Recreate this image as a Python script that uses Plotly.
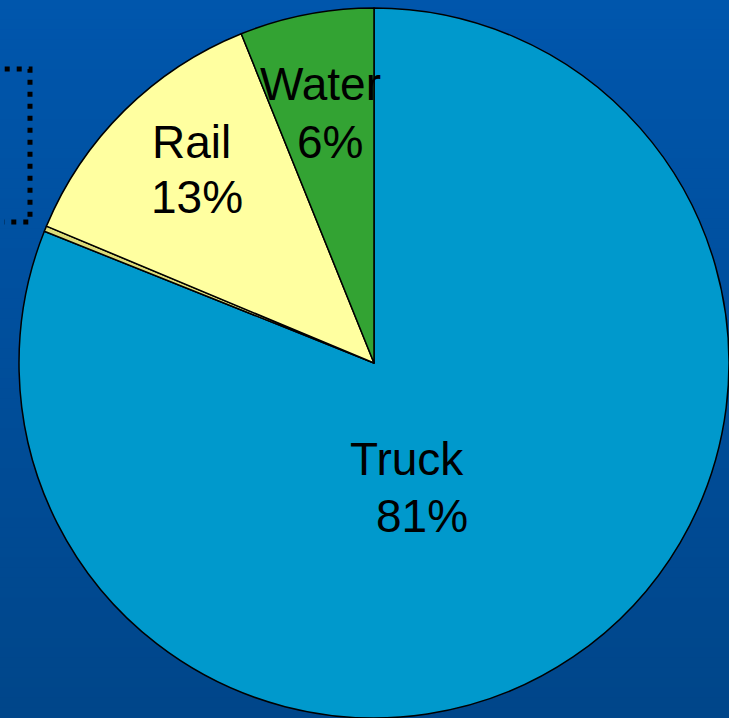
import plotly.graph_objects as go

# Data (listed clockwise from 12 o'clock)
modes = ["Truck", "Pipeline", "Rail", "Water"]
shares = [81.05, 0.25, 12.6, 6.1]
colors = ["#0099CC", "#DCDC78", "#FFFFA0", "#33A333"]

# Slice labels shown on the chart
label_names = ["Water", "Rail", "Truck"]
label_pcts = ["6%", "13%", "81%"]

W, H = 729, 718
fig = go.Figure()

fig.add_trace(go.Pie(
    labels=modes,
    values=shares,
    sort=False,
    direction="clockwise",
    rotation=0,
    marker=dict(colors=colors, line=dict(color="black", width=1.5)),
    textinfo="none",
    hoverinfo="label+percent",
    showlegend=False,
    domain=dict(x=[19 / W, 1.0], y=[0.0, 710 / H]),
))

# background gradient
shapes = []
n = 72
top = (0, 86, 172)
bot = (0, 70, 138)
for i in range(n):
    t = i / (n - 1)
    c = tuple(round(top[k] + (bot[k] - top[k]) * t) for k in range(3))
    shapes.append(dict(type="rect", xref="paper", yref="paper", layer="below",
                       x0=0, x1=1, y0=1 - (i + 1) / n, y1=1 - i / n + 0.001,
                       fillcolor=f"rgb{c}", line=dict(width=0)))

# dotted callout box (partially visible)
shapes.append(dict(type="path", xref="paper", yref="paper", layer="above",
                   path=f"M {-0.01} {1-69/H} L {30/W} {1-69/H} L {30/W} {1-222/H} L {4/W} {1-222/H}",
                   line=dict(color="black", width=5, dash="5px,7px")))

font = dict(family="Liberation Sans, Arial, sans-serif", size=46, color="black")
# pixel placement of each label line (name line, percent line)
name_pos = [(320, 84), (191, 142), (407, 459)]
pct_pos = [(329.5, 142), (196.5, 197), (421.5, 516)]
annotations = []
for name, pct, (nx, ny), (px, py) in zip(label_names, label_pcts, name_pos, pct_pos):
    annotations.append(dict(text=name, x=nx / W, y=1 - ny / H))
    annotations.append(dict(text=pct, x=px / W, y=1 - py / H))
for a in annotations:
    a.update(xref="paper", yref="paper", showarrow=False, font=font,
             xanchor="center", yanchor="middle")

fig.update_layout(
    width=W, height=H,
    margin=dict(l=0, r=0, t=0, b=0),
    paper_bgcolor="#0055AA",
    plot_bgcolor="rgba(0,0,0,0)",
    shapes=shapes,
    annotations=annotations,
)

fig.write_html("out.html", config={"displayModeBar": False},
               post_script="document.body.style.margin='0';document.body.style.overflow='hidden';")
